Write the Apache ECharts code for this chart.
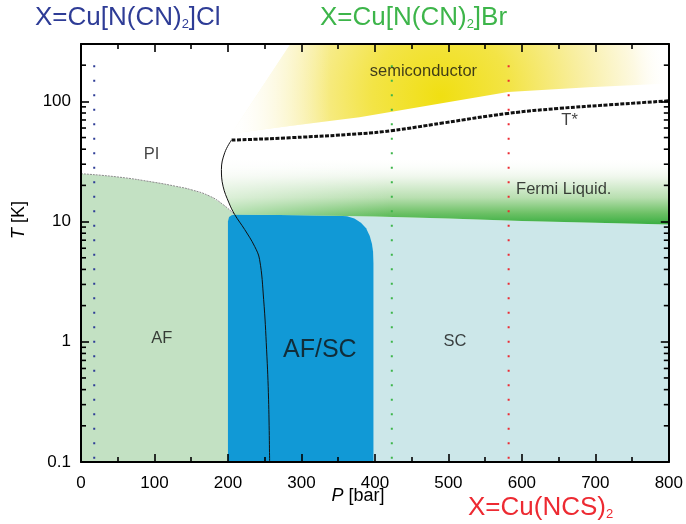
<!DOCTYPE html>
<html>
<head>
<meta charset="utf-8">
<script src="https://cdn.jsdelivr.net/npm/echarts@6/dist/echarts.min.js"></script>
<style>
  html, body { margin: 0; padding: 0; background: #fff; }
  #chart { width: 686px; height: 524px; }
</style>
</head>
<body>
<div id="chart"></div>
<script>
// ---- axis ticks ----
const pressureRange = [0, 800];          // bar
const pressureStep = 100;
const temperatureRange = [0.1, 300];     // K
const temperatureMinorTicks = [
  0.2, 0.3, 0.4, 0.5, 0.6, 0.7, 0.8, 0.9,
  2, 3, 4, 5, 6, 7, 8, 9,
  20, 30, 40, 50, 60, 70, 80, 90,
  200
];

// ---- phase boundaries, [P (bar), T (K)] ----
const afBoundary = [[0, 25], [50, 23.5], [100, 21.2], [130, 19.6], [150, 18.4], [175, 16.3], [193, 13.9], [209, 11.44]];
const scBoundary = [[209, 11.44], [300, 11.3], [400, 11.0], [500, 10.6], [600, 10.1], [700, 9.8], [800, 9.45]];
const afscRegion = [
  [200, 0.1], [200, 10.0], [201.5, 10.9], [205, 11.3], [210, 11.45], [300, 11.3], [350, 11.2],
  [362, 11.05], [372, 10.6], [381, 9.8], [388, 8.8], [393, 7.6], [396, 6.5], [397.5, 5.6], [398, 4.5], [398, 0.1]
];
const crossoverLine = [
  [204.7, 47.6], [195.6, 37.4], [191.1, 27.1], [193.3, 19.7], [201.4, 14.3], [209.2, 11.44],
  [222.8, 8.58], [236.3, 6.22], [243.1, 4.82], [248.6, 2.24], [252.6, 0.858], [255.3, 0.329], [256.7, 0.1]
];
const tStarLine = [[205, 47.6], [284, 49.8], [379, 53.8], [422, 57], [492, 66], [581, 79.4], [651, 87.4], [719, 93.5], [800, 101]];
const semiconductorEdge = [[205, 54], [284, 62.3], [379, 73.6], [581, 119.5], [691, 130.8], [800, 141]];
const semiconductorTopLeft = 285;
const fermiLiquidTop = 34;

// ---- ambient-pressure positions of the three salts ----
const samplePressures = [18, 423, 582];
const sampleTopT = 200;

// ---- region names ----
const regionLabels = [
  { name: 'PI', value: [96, 36.2] },
  { name: 'AF', value: [110, 1.06] },
  { name: 'AF/SC', value: [325, 0.86], big: true },
  { name: 'SC', value: [509, 1.0] },
  { name: 'semiconductor', value: [466, 178] },
  { name: 'T*', value: [665, 69.5] },
  { name: 'Fermi Liquid.', value: [657, 18.5] }
];

const FONT = '"Liberation Sans", Arial, Helvetica, sans-serif';
const sampleColors = ['#2e3c96', '#3db54a', '#ed2a32'];

// polygon filled region drawn through the cartesian scales
function region(name, pts, fill, z) {
  return {
    type: 'custom', name: name, coordinateSystem: 'cartesian2d',
    data: [[400, 1]], silent: true, clip: true, z: z,
    renderItem: function (params, api) {
      return {
        type: 'polygon',
        shape: { points: pts.map(function (p) { return api.coord(p); }) },
        style: { fill: typeof fill === 'function' ? fill(api) : fill, stroke: null }
      };
    }
  };
}

const scPolygon = [[200, 0.1], [200, 11.44]].concat(scBoundary, [[800, 0.1]]);
const afPolygon = [[0, 0.1]].concat(afBoundary, [[209, 0.1]]);
const fermiPolygon = scBoundary.concat(
  [[800, fermiLiquidTop], [193, fermiLiquidTop]],
  crossoverLine.filter(function (p) { return p[1] < fermiLiquidTop && p[1] > 11.44; })
);
const semiPolygon = semiconductorEdge.concat([[800, 300], [semiconductorTopLeft, 300]]);

// white wash that softens the left end of a band
function leftFade(fromP, toP, alpha) {
  return function (api) {
    return {
      type: 'linear', global: true,
      x: api.coord([fromP, 1])[0], y: 0, x2: api.coord([toP, 1])[0], y2: 0,
      colorStops: [
        { offset: 0, color: 'rgba(255,255,255,' + alpha + ')' },
        { offset: 1, color: 'rgba(255,255,255,0)' }
      ]
    };
  };
}

const series = [
  region('SC', scPolygon, '#cce7e9', 1),
  region('AF', afPolygon, '#c3e1c3', 1),
  region('AF/SC', afscRegion, '#1199d6', 2),
  region('Fermi liquid', fermiPolygon, function (api) {
    const y0 = api.coord([500, fermiLiquidTop])[1];
    const y1 = api.coord([500, 9.45])[1];
    return {
      type: 'linear', global: true, x: 0, y: y0, x2: 0, y2: y1,
      colorStops: [
        { offset: 0, color: 'rgba(255,255,255,0)' },
        { offset: 0.3, color: '#edf6ea' },
        { offset: 0.6, color: '#b8dfb0' },
        { offset: 0.83, color: '#6dc166' },
        { offset: 1, color: '#38ae41' }
      ]
    };
  }, 3),
  region('Fermi liquid fade', fermiPolygon, leftFade(195, 420, 0.5), 3),
  region('semiconductor', semiPolygon, function (api) {
    const c = api.coord([490, 110]);
    return {
      type: 'radial', global: true, x: c[0], y: c[1], r: 230,
      colorStops: [
        { offset: 0, color: '#f0df12' },
        { offset: 0.3, color: '#f3e446' },
        { offset: 0.6, color: '#f8ee9e' },
        { offset: 0.85, color: '#fdf9e2' },
        { offset: 1, color: 'rgba(255,255,255,0)' }
      ]
    };
  }, 3),
  region('semiconductor fade', semiPolygon, leftFade(205, 340, 1), 3),
  {
    type: 'line', name: 'AF boundary', data: afBoundary, smooth: true, symbol: 'none', z: 5,
    lineStyle: { color: '#8a8a8a', width: 1, type: [2, 1] }, silent: true
  },
  {
    type: 'line', name: 'crossover', data: crossoverLine, smooth: 0.4, symbol: 'none', z: 6,
    lineStyle: { color: '#111', width: 1 }, silent: true
  },
  {
    type: 'line', name: 'T*', data: tStarLine, smooth: true, symbol: 'none', z: 6,
    lineStyle: { color: '#111', width: 3, type: [4, 1.5] }, silent: true
  }
];

samplePressures.forEach(function (p, i) {
  series.push({
    type: 'line', data: [[p, sampleTopT], [p, 0.1]], symbol: 'none', z: 7, silent: true,
    lineStyle: { color: sampleColors[i], width: 2, type: [2, 12.5] }
  });
});

series.push({
  type: 'scatter', data: regionLabels.map(function (d) {
    return { name: d.name, value: d.value, label: { fontSize: d.big ? 25 : 16.5 } };
  }),
  symbolSize: 0, z: 8, silent: true,
  label: { show: true, position: 'inside', formatter: '{b}', color: '#111', fontFamily: FONT, fontSize: 16.5 }
});

function frameAxis(extra) {
  return Object.assign({
    axisLine: { show: true, onZero: false, lineStyle: { color: '#000', width: 2 } },
    axisTick: { show: true, inside: true, length: 8, lineStyle: { color: '#000', width: 1.6 } },
    splitLine: { show: false },
    z: 10
  }, extra);
}

function titleText(x, y, main, sub, tail, color) {
  return {
    type: 'text', x: x, y: y, silent: true, z: 50,
    style: {
      text: '{m|' + main + '}{s|' + sub + '}' + (tail ? '{m|' + tail + '}' : ''),
      verticalAlign: 'middle',
      rich: {
        m: { fontSize: 26, fontFamily: FONT, fill: color },
        s: { fontSize: 13, fontFamily: FONT, fill: color, verticalAlign: 'bottom' }
      }
    }
  };
}

function axisName(x, y, italic, rest, rotation) {
  return {
    type: 'text', x: x, y: y, rotation: rotation || 0, silent: true, z: 50,
    style: {
      text: '{i|' + italic + '}{n|' + rest + '}', align: 'center', verticalAlign: 'middle',
      rich: {
        i: { fontSize: 18, fontFamily: FONT, fontStyle: 'italic', fill: '#000' },
        n: { fontSize: 18, fontFamily: FONT, fill: '#000' }
      }
    }
  };
}

const texts = [
  titleText(35, 18, 'X=Cu[N(CN)', '2', ']Cl', sampleColors[0]),
  titleText(320, 18, 'X=Cu[N(CN)', '2', ']Br', sampleColors[1]),
  titleText(468, 508, 'X=Cu(NCS)', '2', '', sampleColors[2]),
  axisName(358, 496, 'P', ' [bar]'),
  axisName(19, 220, 'T', ' [K]', Math.PI / 2)
];

const xMinor = { show: true, splitNumber: 2, length: 5, lineStyle: { color: '#000', width: 1.6 } };

const option = {
  animation: false,
  backgroundColor: '#fff',
  grid: { left: 81, right: 16, top: 44, bottom: 62, containLabel: false },
  xAxis: [
    frameAxis({ type: 'value', position: 'bottom', min: pressureRange[0], max: pressureRange[1], interval: pressureStep,
      minorTick: xMinor,
      axisLabel: { color: '#000', fontSize: 17, fontFamily: FONT, margin: 13 } }),
    frameAxis({ type: 'value', position: 'top', min: pressureRange[0], max: pressureRange[1], interval: pressureStep,
      minorTick: xMinor, axisLabel: { show: false } })
  ],
  yAxis: [
    frameAxis({ type: 'log', logBase: 10, position: 'left', min: temperatureRange[0], max: temperatureRange[1],
      axisLabel: { color: '#000', fontSize: 17, fontFamily: FONT, margin: 10, showMaxLabel: false } }),
    frameAxis({ type: 'log', logBase: 10, position: 'right', min: temperatureRange[0], max: temperatureRange[1],
      axisLabel: { show: false } })
  ],
  series: series,
  graphic: texts
};

const chart = echarts.init(document.getElementById('chart'), null, { renderer: 'canvas' });
chart.setOption(option);

// logarithmic minor ticks (2..9 of each decade) on the left and right frame
const px = function (p) { return chart.convertToPixel({ xAxisIndex: 0 }, p); };
const py = function (t) { return chart.convertToPixel({ yAxisIndex: 0 }, t); };
const frameLeft = px(pressureRange[0]);
const frameRight = px(pressureRange[1]);
const minorLen = 5;
const minorW = 1.6;
const minorTicks = [];
temperatureMinorTicks.forEach(function (t) {
  const y = py(t);
  minorTicks.push({ type: 'rect', silent: true, z: 60, shape: { x: frameLeft, y: y - minorW / 2, width: minorLen, height: minorW }, style: { fill: '#000' } });
  minorTicks.push({ type: 'rect', silent: true, z: 60, shape: { x: frameRight - minorLen, y: y - minorW / 2, width: minorLen, height: minorW }, style: { fill: '#000' } });
});
chart.setOption({ graphic: texts.concat(minorTicks) });
</script>
</body>
</html>
